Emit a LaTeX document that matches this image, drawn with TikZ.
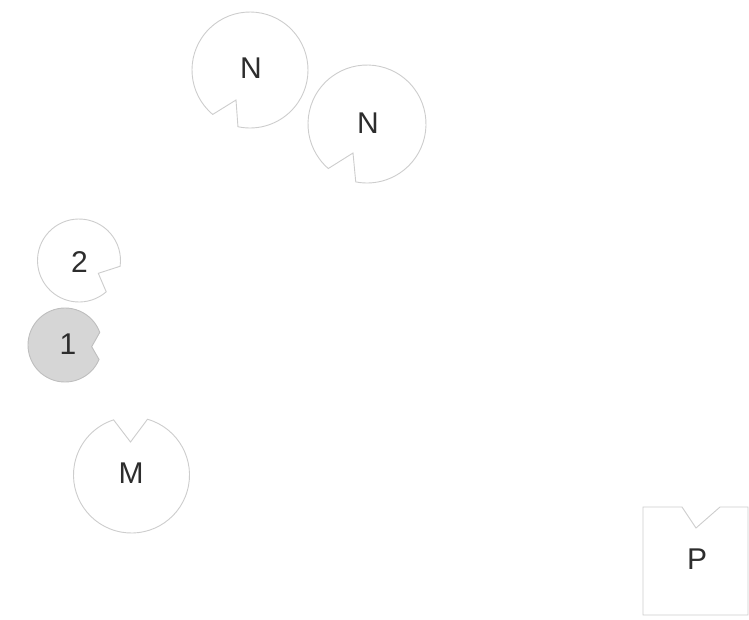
\documentclass[tikz,border=0pt]{standalone}
\usepackage{fontspec}
\setmainfont{Liberation Sans}
\usetikzlibrary{calc}
\definecolor{edge}{RGB}{205,205,205}
\definecolor{grayfill}{RGB}{214,214,214}
\definecolor{grayedge}{RGB}{190,190,190}
\definecolor{ink}{RGB}{45,45,45}
\begin{document}
\begin{tikzpicture}[x=1pt,y=-1pt,
  outline/.style={draw=edge,line width=0.9pt,fill=white},
  shaded/.style={draw=grayedge,line width=0.9pt,fill=grayfill},
  lbl/.style={text=ink,font=\fontsize{30}{30}\selectfont,inner sep=0pt}]
\useasboundingbox (0,0) rectangle (749,619);
% N (upper)
\coordinate (c1) at (250,70);
\draw[outline] ($(c1)+(130:58)$) arc[start angle=130,end angle=462,radius=58]
  -- ($(c1)+(-14,30)$) -- cycle;
\node[lbl] (n1) at (251,68) {N};
% N (lower)
\coordinate (c2) at (367,124);
\draw[outline] ($(c2)+(131:59)$) arc[start angle=131,end angle=461,radius=59]
  -- ($(c2)+(-14,29)$) -- cycle;
\node[lbl] (n2) at (368,123) {N};
% 2
\coordinate (c3) at (79,260.5);
\draw[outline] ($(c3)+(49:41.5)$) arc[start angle=49,end angle=368,radius=41.5]
  -- ($(c3)+(19.3,12.8)$) -- cycle;
\node[lbl] (t2) at (79.5,262) {2};
% 1
\coordinate (c4) at (65,345);
\draw[shaded] ($(c4)+(23:37)$) arc[start angle=23,end angle=340,radius=37]
  -- ($(c4)+(26.7,1.7)$) -- cycle;
\node[lbl] (t1) at (68,344) {1};
% M
\coordinate (c5) at (131.5,475);
\draw[outline] ($(c5)+(-74:58)$) arc[start angle=-74,end angle=252,radius=58]
  -- ($(c5)+(-1,-33)$) -- cycle;
\node[lbl] (m) at (131,473) {M};
% P
\draw[outline] (643,507) -- (682,507) -- (696,528) -- (720,507) -- (748,507)
  -- (748,615) -- (643,615) -- cycle;
\node[lbl] (p) at (697,559) {P};
\end{tikzpicture}
\end{document}
